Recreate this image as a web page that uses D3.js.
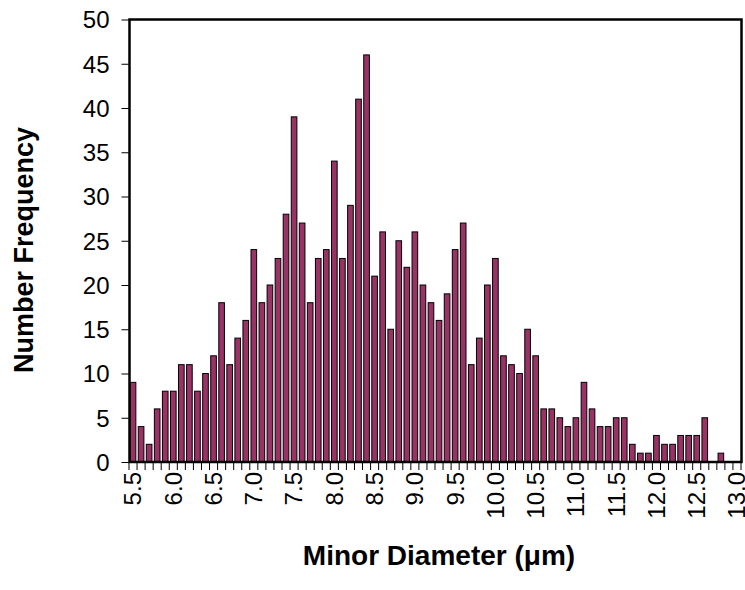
<!DOCTYPE html>
<html lang=en>
<head>
<meta charset="utf-8">
<title>Minor Diameter histogram</title>
<style>
  body { margin: 0; background: #fff; }
  svg { display: block; font-family: 'Liberation Sans', Arial, sans-serif; }
  .bar { fill: #993366; stroke: #000; stroke-width: 1; }
  .frame { fill: none; stroke: #000; stroke-width: 2.5; }
  .axis .domain { display: none; }
  .axis line, .bound { stroke: #000; stroke-width: 1; }
  .axis text { font-size: 24px; fill: #000; }
  .axis-title { font-weight: bold; font-size: 28px; fill: #000; }
  .y-title { font-size: 27px; }
</style>
</head>
<body>
<div id="chart"></div>
<script src="https://d3js.org/d3.v7.min.js"></script>
<script>
// bin centres (um) - one bar per 0.1 um
var bins = ["5.5","5.6","5.7","5.8","5.9","6.0","6.1","6.2","6.3","6.4",
            "6.5","6.6","6.7","6.8","6.9","7.0","7.1","7.2","7.3","7.4",
            "7.5","7.6","7.7","7.8","7.9","8.0","8.1","8.2","8.3","8.4",
            "8.5","8.6","8.7","8.8","8.9","9.0","9.1","9.2","9.3","9.4",
            "9.5","9.6","9.7","9.8","9.9","10.0","10.1","10.2","10.3","10.4",
            "10.5","10.6","10.7","10.8","10.9","11.0","11.1","11.2","11.3","11.4",
            "11.5","11.6","11.7","11.8","11.9","12.0","12.1","12.2","12.3","12.4",
            "12.5","12.6","12.7","12.8","12.9","13.0"];
// number of particles in each bin
var counts = [9, 4, 2, 6, 8, 8, 11, 11, 8, 10,
              12, 18, 11, 14, 16, 24, 18, 20, 23, 28,
              39, 27, 18, 23, 24, 34, 23, 29, 41, 46,
              21, 26, 15, 25, 22, 26, 20, 18, 16, 19,
              24, 27, 11, 14, 20, 23, 12, 11, 10, 15,
              12, 6, 6, 5, 4, 5, 9, 6, 4, 4,
              5, 5, 2, 1, 1, 3, 2, 2, 3, 3,
              3, 5, 0, 1, 0, 0];
var yTicks = [0, 5, 10, 15, 20, 25, 30, 35, 40, 45, 50];
var xLabels = ["5.5","6.0","6.5","7.0","7.5","8.0","8.5","9.0","9.5",
               "10.0","10.5","11.0","11.5","12.0","12.5","13.0"];

(function() {
  var width = 745,
      height = 590;
  var left = 129, right = 741, top = 19.5, bottom = 462;

  var svg = d3.select("#chart").append("svg")
      .attr("width", width)
      .attr("height", height);

  var data = bins.map(function(b, i) { return {bin: b, n: counts[i]}; });

  // categories sit in equal cells, bar centred in each
  var x = d3.scaleBand()
      .domain(bins)
      .range([left, right])
      .paddingInner(0.3)
      .paddingOuter(0.15);

  var y = d3.scaleLinear()
      .domain([0, 50])
      .range([bottom, top]);

  // bars
  svg.append("g")
    .selectAll("rect")
    .data(data)
    .enter().append("rect")
      .attr("class", "bar")
      .attr("x", function(d) { return x(d.bin); })
      .attr("y", function(d) { return y(d.n); })
      .attr("width", x.bandwidth())
      .attr("height", function(d) { return y(0) - y(d.n); });

  // tick marks between categories
  var gap = x.step() * x.paddingInner() / 2;
  var bounds = bins.map(function(b) { return x(b) - gap; }).concat([right]);
  svg.append("g")
    .selectAll("line")
    .data(bounds)
    .enter().append("line")
      .attr("class", "bound")
      .attr("x1", function(d) { return d; })
      .attr("x2", function(d) { return d; })
      .attr("y1", bottom)
      .attr("y2", bottom + 8);

  // x labels, turned on their side
  var xAxis = svg.append("g")
      .attr("class", "axis")
      .attr("transform", "translate(0," + bottom + ")")
      .call(d3.axisBottom(x).tickValues(xLabels).tickSize(0));
  xAxis.selectAll("text")
      .attr("transform", "rotate(-90)")
      .attr("text-anchor", "end")
      .attr("x", -10)
      .attr("y", 0)
      .attr("dy", "0.35em");

  // y axis
  svg.append("g")
      .attr("class", "axis")
      .attr("transform", "translate(" + (left + 0.5) + ",0)")
      .call(d3.axisLeft(y).tickValues(yTicks).tickSize(8).tickPadding(12))
    .selectAll("text")
      .attr("dy", "0.35em");

  // plot frame
  svg.append("rect")
      .attr("class", "frame")
      .attr("x", left + 0.5)
      .attr("y", top)
      .attr("width", right - left)
      .attr("height", bottom - top);

  // titles
  svg.append("text")
      .attr("class", "axis-title")
      .attr("text-anchor", "middle")
      .attr("x", 439)
      .attr("y", 565)
      .text("Minor Diameter (\u03bcm)");

  svg.append("text")
      .attr("class", "axis-title y-title")
      .attr("text-anchor", "middle")
      .attr("transform", "translate(33,250) rotate(-90)")
      .text("Number Frequency");
})();
</script>
</body>
</html>
